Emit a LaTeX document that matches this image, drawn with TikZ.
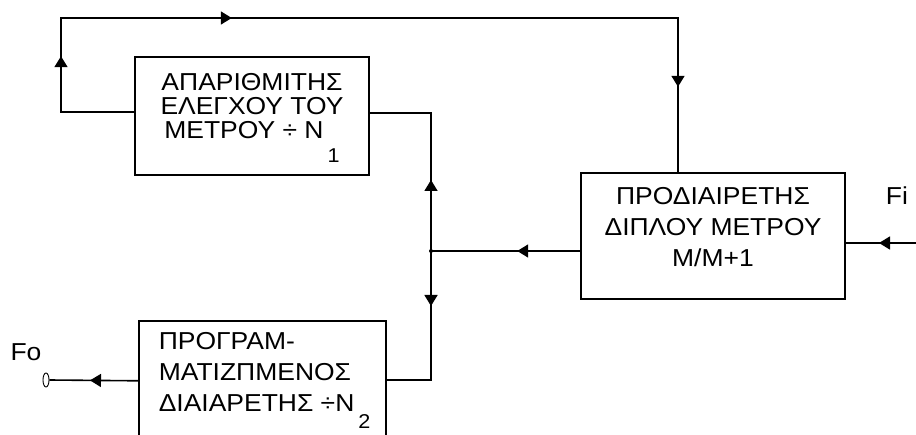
\documentclass[tikz,border=0pt]{standalone}
\usepackage{fontspec}
\setmainfont{Liberation Sans}[FakeStretch=1.08]
\usetikzlibrary{arrows.meta,decorations.markings,shapes.geometric}

\newcommand\blockfont{\fontsize{24.5pt}{31pt}\selectfont}
\newcommand\tightfont{\fontsize{24.5pt}{24pt}\selectfont}
\newcommand\lowidx[2]{\hspace{4pt}\smash{\raisebox{#1}{\fontsize{20pt}{20pt}\selectfont #2}}}

\tikzset{
  block/.style={draw, line width=1.6pt},
  blocktext/.style={align=#1, font=\blockfont, inner sep=0pt},
  tipat/.style={postaction={decorate, decoration={markings,
      mark=at position #1 with {\arrow{Triangle[width=13pt,length=11pt]}}}}},
}

\begin{document}
\begin{tikzpicture}[x=1pt, y=-1pt, line width=1.6pt]
    \useasboundingbox (0,0) rectangle (916,435);
    \clip (0,0) rectangle (916,435);

    % blocks
    \node[block, minimum width=234pt, minimum height=118pt] (cnt) at (252,116) {};
    \node[blocktext=center, font=\tightfont] (cnttxt) at ([yshift=10pt]cnt.center)
        {ΑΠΑΡΙΘΜΙΤΗΣ\\ΕΛΕΓΧΟΥ ΤΟΥ\\ΜΕΤΡΟΥ ÷ N\lowidx{-24pt}{1}};
    \node[block, minimum width=264pt, minimum height=126pt] (pre) at (713,236) {};
    \node[blocktext=center] (pretxt) at ([yshift=9pt]pre.center)
        {ΠΡΟΔΙΑΙΡΕΤΗΣ\\ΔΙΠΛΟΥ ΜΕΤΡΟΥ\\M/M+1};
    \node[block, minimum width=247pt, minimum height=140pt, anchor=north west] (prog) at (138,320) {};
    \node[blocktext=left, anchor=north west] (progtxt) at ([xshift=20pt,yshift=-12pt]prog.north west)
        {ΠΡΟΓΡΑΜ-\\ΜΑΤΙΖΠΜΕΝΟΣ\\ΔΙΑΙΑΡΕΤΗΣ ÷N\lowidx{-17pt}{2}};

    % terminals and labels
    \node[draw, ellipse, line width=0.9pt, minimum width=6pt, minimum height=14pt, inner sep=0pt] (fo) at (46,380) {};
    \node[font=\blockfont] (folab) at (26,352) {Fo};
    \node[font=\blockfont] (filab) at (897,196) {Fi};
    \coordinate (fi) at (916,243);
    \coordinate (J) at (431,251);
    \coordinate (lt) at (61,18);

    % connectors
    \draw[tipat=37pt] (fi) -- ([yshift=-7pt]pre.east);
    \draw[tipat=63pt] ([yshift=-15pt]pre.west) -- (J);
    \draw[tipat=71pt] (J) |- ([yshift=3pt]cnt.east);
    \draw[tipat=55pt] (J) |- ([yshift=11pt]prog.east);
    \draw[tipat=48pt] ([yshift=10pt]prog.west) -- (fo.east);
    \draw[tipat=129pt, tipat=338pt, tipat=853pt]
        ([yshift=4pt]cnt.west) -| (lt) -| ([xshift=-35pt]pre.north);
    \fill (J) circle (2pt);
\end{tikzpicture}
\end{document}
